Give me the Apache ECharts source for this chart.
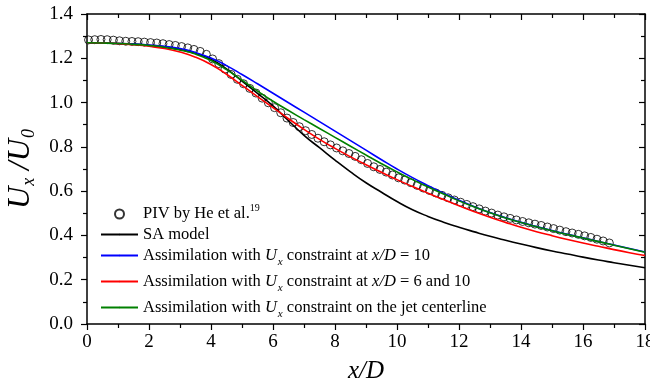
<!DOCTYPE html>
<html><head><meta charset="utf-8">
<script src="https://cdn.jsdelivr.net/npm/echarts@6/dist/echarts.min.js"></script>
<style>html,body{margin:0;padding:0;background:#fff}#c{width:650px;height:387px}</style>
</head><body><div id="c"></div>
<script>
// ---- data ----
const pivX = [0.05,0.25,0.45,0.65,0.85,1.05,1.25,1.45,1.65,1.85,2.05,2.25,2.45,2.65,2.85,3.05,3.25,3.45,3.65,3.85,
  4.05,4.25,4.45,4.65,4.85,5.05,5.25,5.45,5.65,5.85,6.05,6.25,6.45,6.65,6.85,7.05,7.25,7.45,7.65,7.85,
  8.05,8.25,8.45,8.65,8.85,9.05,9.25,9.45,9.65,9.85,10.05,10.25,10.45,10.65,10.85,11.05,11.25,11.45,11.65,11.85,
  12.05,12.25,12.45,12.65,12.85,13.05,13.25,13.45,13.65,13.85,14.05,14.25,14.45,14.65,14.85,15.05,15.25,15.45,15.65,15.85,
  16.05,16.25,16.45,16.65,16.85];
const pivY = [1.283,1.284,1.285,1.284,1.282,1.279,1.277,1.276,1.275,1.273,1.271,1.269,1.266,1.262,1.258,1.253,1.247,1.240,1.231,1.218,
  1.197,1.176,1.151,1.127,1.105,1.085,1.064,1.043,1.020,0.999,0.977,0.954,0.930,0.910,0.891,0.873,0.856,0.839,0.823,0.809,
  0.795,0.782,0.770,0.757,0.742,0.725,0.710,0.698,0.686,0.673,0.660,0.650,0.638,0.626,0.614,0.603,0.592,0.581,0.570,0.560,
  0.550,0.540,0.530,0.520,0.510,0.501,0.492,0.484,0.477,0.470,0.463,0.457,0.451,0.445,0.438,0.431,0.424,0.417,0.411,0.405,
  0.398,0.391,0.383,0.375,0.366];
const lineX = [0,0.5,1,1.5,2,2.5,3,3.5,4,4.5,5,5.5,6,6.5,7,7.5,8,8.5,9,9.5,10,10.5,11,11.5,12,12.5,13,13.5,14,14.5,15,15.5,16,16.5,17,17.5,18];
const saY = [1.270,1.269,1.267,1.264,1.259,1.252,1.240,1.222,1.196,1.152,1.097,1.042,0.985,0.918,0.852,0.796,0.740,0.687,0.638,0.595,
  0.553,0.516,0.486,0.460,0.437,0.416,0.396,0.378,0.361,0.345,0.330,0.316,0.302,0.289,0.277,0.265,0.254];
const blueY = [1.270,1.269,1.267,1.264,1.260,1.254,1.244,1.226,1.201,1.167,1.127,1.085,1.042,0.999,0.957,0.914,0.871,0.828,0.785,0.742,
  0.700,0.661,0.625,0.591,0.559,0.530,0.503,0.480,0.459,0.440,0.422,0.405,0.389,0.373,0.357,0.341,0.325];
const redY = [1.270,1.269,1.266,1.261,1.254,1.244,1.228,1.205,1.172,1.128,1.078,1.027,0.977,0.927,0.879,0.834,0.793,0.755,0.719,0.685,
  0.652,0.621,0.591,0.562,0.534,0.507,0.482,0.459,0.437,0.417,0.399,0.382,0.366,0.351,0.336,0.322,0.309];
const greenY = [1.270,1.269,1.267,1.263,1.258,1.250,1.237,1.219,1.190,1.149,1.101,1.052,1.006,0.964,0.923,0.883,0.843,0.803,0.763,0.724,
  0.687,0.652,0.619,0.587,0.556,0.528,0.502,0.479,0.458,0.439,0.421,0.404,0.388,0.372,0.356,0.340,0.324];
const seriesNames = ['PIV by He et al.', 'SA model', 'Assimilation at x/D = 10', 'Assimilation at x/D = 6 and 10', 'Assimilation on the jet centerline'];
const legendLabels = [
  '{n|PIV by He et al.}{sup|19}',
  '{n|SA model}',
  '{n|Assimilation with }{i|U}{s|x}{n| constraint at }{i|x/D}{n| = 10}',
  '{n|Assimilation with }{i|U}{s|x}{n| constraint at }{i|x/D}{n| = 6 and 10}',
  '{n|Assimilation with }{i|U}{s|x}{n| constraint on the jet centerline}'
];
const xTickInterval = 2, yTickInterval = 0.2;

// ---- chart ----
const FONT = "'Liberation Serif','Times New Roman',serif";
const zip = (xs, ys) => xs.map((x, i) => [x, ys[i]]);
const chart = echarts.init(document.getElementById('c'), null, {renderer: 'canvas'});
const axisLine = {show: true, onZero: false, lineStyle: {color: '#000', width: 1.5}};
const tick = (inside) => ({show: true, inside, length: 6, lineStyle: {color: '#000', width: 1.2}});
const minor = {show: true, splitNumber: 2, length: 4, lineStyle: {color: '#000', width: 1.2}};
const LF = 16.5;
const rich = {
  n: {fontFamily: FONT, fontSize: LF, color: '#000', lineHeight: 24},
  i: {fontFamily: FONT, fontSize: LF, fontStyle: 'italic', color: '#000', lineHeight: 24},
  s: {fontFamily: FONT, fontSize: 11, fontStyle: 'italic', color: '#000', padding: [13, 0, 0, 1]},
  sup: {fontFamily: FONT, fontSize: 10, color: '#000', padding: [0, 0, 12, 0]}
};
const iconCenters = [214, 234.5, 255.5, 281.5, 307.5];
const legends = seriesNames.map((nm, k) => ({
  data: [nm],
  left: k === 0 ? 114 : 100,
  top: iconCenters[k] - 12,
  orient: 'vertical',
  padding: 0,
  itemWidth: 37,
  itemHeight: k === 0 ? 9 : 2,
  itemGap: 0,
  selectedMode: false,
  textStyle: {fontFamily: FONT, fontSize: LF, color: '#000', lineHeight: 24, rich},
  formatter: () => legendLabels[k]
}));
const lineSeries = (name, ys, color) => ({
  name, type: 'line', data: zip(lineX, ys), smooth: true, symbol: 'none', showSymbol: false,
  lineStyle: {color, width: 1.6}, itemStyle: {color}, z: 3, animation: false
});
chart.setOption({
  backgroundColor: '#fff',
  animation: false,
  grid: {left: 87, right: 5, top: 14, bottom: 63, containLabel: false, outerBoundsMode: 'none'},
  legend: legends,
  xAxis: [
    {type: 'value', min: 0, max: 18, interval: xTickInterval, position: 'bottom', axisLine, axisTick: tick(false), minorTick: minor,
     splitLine: {show: false}, axisLabel: {color: '#000', fontFamily: FONT, fontSize: 19, margin: 9},
     name: 'x/D', nameLocation: 'middle', nameGap: 35,
     nameTextStyle: {fontFamily: FONT, fontSize: 25, fontStyle: 'italic', color: '#000'}},
    {type: 'value', min: 0, max: 18, interval: xTickInterval, position: 'top', axisLine, axisTick: tick(true), minorTick: minor,
     splitLine: {show: false}, axisLabel: {show: false}}
  ],
  yAxis: [
    {type: 'value', min: 0, max: 1.4, interval: yTickInterval, position: 'left', axisLine, axisTick: tick(false), minorTick: minor,
     splitLine: {show: false}, axisLabel: {color: '#000', fontFamily: FONT, fontSize: 19, margin: 14, formatter: v => v.toFixed(1)},
     name: '{i|U}{s|x}{n| /}{i|U}{s|0}', nameLocation: 'middle', nameGap: 47,
     nameTextStyle: {fontFamily: FONT, fontSize: 31, color: '#000', rich: {
       i: {fontFamily: FONT, fontSize: 31, fontStyle: 'italic', color: '#000'},
       n: {fontFamily: FONT, fontSize: 31, fontStyle: 'italic', color: '#000'},
       s: {fontFamily: FONT, fontSize: 18, fontStyle: 'italic', color: '#000', padding: [18, 0, 0, 1]}
     }}},
    {type: 'value', min: 0, max: 1.4, interval: yTickInterval, position: 'right', axisLine, axisTick: tick(true), minorTick: minor,
     splitLine: {show: false}, axisLabel: {show: false}}
  ],
  series: [
    {name: seriesNames[0], type: 'scatter', data: zip(pivX, pivY), symbol: 'circle', symbolSize: 8,
     itemStyle: {color: 'rgba(255,255,255,0)', borderColor: '#000', borderWidth: 1}, z: 2, animation: false},
    lineSeries(seriesNames[1], saY, '#000000'),
    lineSeries(seriesNames[2], blueY, '#0000ff'),
    lineSeries(seriesNames[3], redY, '#ff0000'),
    lineSeries(seriesNames[4], greenY, '#008000')
  ]
});
</script></body></html>
